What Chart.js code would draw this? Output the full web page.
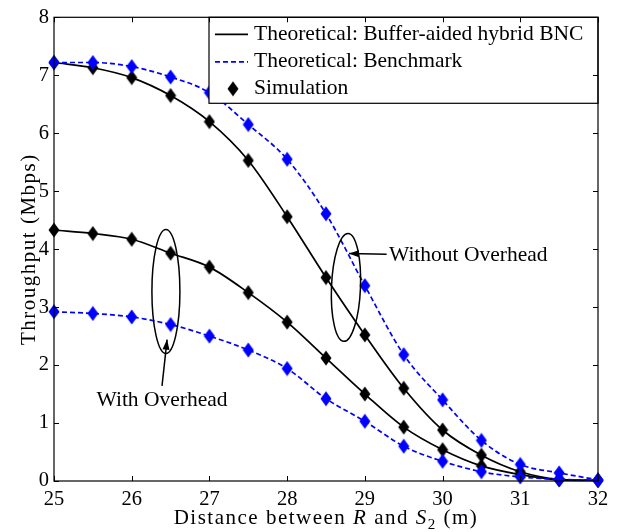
<!DOCTYPE html>
<html>
<head>
<meta charset="utf-8">
<script src="https://cdn.jsdelivr.net/npm/chart.js@4.4.0/dist/chart.umd.min.js"></script>
<style>
body { margin: 0; background: #fff; }
canvas { display: block; }
</style>
</head>
<body>
<canvas id="canvas" width="621" height="532"></canvas>
<script>
// distance between R and S2 (m)
const distance = [25, 25.5, 26, 26.5, 27, 27.5, 28, 28.5, 29, 29.5, 30, 30.5, 31, 31.5, 32];
// throughput (Mbps)
const hybridNoOverhead = [7.22, 7.13, 6.96, 6.65, 6.20, 5.53, 4.56, 3.51, 2.52, 1.60, 0.88, 0.445, 0.16, 0.03, 0.01];
const benchNoOverhead = [7.22, 7.22, 7.15, 6.97, 6.70, 6.15, 5.55, 4.61, 3.37, 2.18, 1.40, 0.70, 0.285, 0.14, 0.02];
const hybridOverhead = [4.33, 4.27, 4.17, 3.93, 3.69, 3.25, 2.74, 2.12, 1.50, 0.93, 0.54, 0.26, 0.11, 0.02, 0.01];
const benchOverhead = [2.92, 2.89, 2.83, 2.70, 2.50, 2.26, 1.94, 1.42, 1.03, 0.60, 0.34, 0.16, 0.07, 0.03, 0.01];
const xTicks = [25, 26, 27, 28, 29, 30, 31, 32];
const yTicks = [0, 1, 2, 3, 4, 5, 6, 7, 8];
const legendLabels = ['Theoretical: Buffer-aided hybrid BNC', 'Theoretical: Benchmark', 'Simulation'];

const serif = '"Liberation Serif", "Times New Roman", serif';
const blue = '#0000ff';

function makeDiamond(color) {
    let c = document.createElement('canvas');
    c.width = 12; c.height = 16;
    let g = c.getContext('2d');
    g.fillStyle = color;
    g.beginPath();
    g.moveTo(6, 0.5); g.lineTo(11.5, 8); g.lineTo(6, 15.5); g.lineTo(0.5, 8);
    g.closePath();
    g.fill();
    return c;
}
const blackDiamond = makeDiamond('#000');
const blueDiamond = makeDiamond(blue);

function pts(arr) {
    return distance.map((d, i) => ({ x: d, y: arr[i] }));
}

function series(arr, color, dashed) {
    return {
        data: pts(arr),
        borderColor: color,
        borderWidth: 1.7,
        borderDash: dashed ? [5, 3] : [],
        pointStyle: color === blue ? blueDiamond : blackDiamond,
        pointRadius: 6,
        cubicInterpolationMode: 'monotone',
        clip: false,
        fill: false
    };
}

function arrow(ctx, x1, y1, x2, y2) {
    ctx.beginPath();
    ctx.moveTo(x1, y1);
    ctx.lineTo(x2, y2);
    ctx.stroke();
    let a = Math.atan2(y2 - y1, x2 - x1);
    let len = 10, w = 3.5;
    ctx.beginPath();
    ctx.moveTo(x2, y2);
    ctx.lineTo(x2 - len * Math.cos(a) + w * Math.sin(a), y2 - len * Math.sin(a) - w * Math.cos(a));
    ctx.lineTo(x2 - len * Math.cos(a) - w * Math.sin(a), y2 - len * Math.sin(a) + w * Math.cos(a));
    ctx.closePath();
    ctx.fill();
}

// legend + annotations, drawn over the curves
const notes = {
    id: 'notes',
    afterDatasetsDraw(chart) {
        let ctx = chart.ctx, xs = chart.scales.x, ys = chart.scales.y, area = chart.chartArea;
        ctx.save();
        ctx.strokeStyle = '#000';
        ctx.fillStyle = '#000';
        ctx.lineWidth = 1.5;

        // ellipses
        ctx.beginPath();
        ctx.ellipse(xs.getPixelForValue(26.44), ys.getPixelForValue(3.27), 14, 62, 0, 0, Math.PI * 2);
        ctx.stroke();
        ctx.beginPath();
        ctx.ellipse(xs.getPixelForValue(28.757), ys.getPixelForValue(3.34), 14.5, 54, 0.04, 0, Math.PI * 2);
        ctx.stroke();

        // arrows
        arrow(ctx, xs.getPixelForValue(26.39), ys.getPixelForValue(1.64), xs.getPixelForValue(26.455), ys.getPixelForValue(2.44));
        arrow(ctx, xs.getPixelForValue(29.28), ys.getPixelForValue(3.91), xs.getPixelForValue(28.795), ys.getPixelForValue(3.925));

        ctx.font = '21.5px ' + serif;
        ctx.textBaseline = 'middle';
        ctx.textAlign = 'center';
        ctx.fillText('With Overhead', xs.getPixelForValue(26.39), ys.getPixelForValue(1.39));
        ctx.textAlign = 'left';
        ctx.fillText('Without Overhead', xs.getPixelForValue(29.31), ys.getPixelForValue(3.89));

        // legend box
        let w = 389, h = 86;
        let lx = area.right - w, ly = area.top;
        ctx.fillStyle = '#fff';
        ctx.fillRect(lx, ly, w, h);
        ctx.lineWidth = 1.2;
        ctx.strokeRect(lx, ly, w, h);
        let rows = [ly + 17, ly + 44.5, ly + 71.5];
        ctx.lineWidth = 1.7;
        ctx.beginPath();
        ctx.moveTo(lx + 6, rows[0]); ctx.lineTo(lx + 39, rows[0]);
        ctx.stroke();
        ctx.strokeStyle = blue;
        ctx.setLineDash([5, 3]);
        ctx.beginPath();
        ctx.moveTo(lx + 6, rows[1]); ctx.lineTo(lx + 39, rows[1]);
        ctx.stroke();
        ctx.setLineDash([]);
        ctx.drawImage(blackDiamond, lx + 24 - 6, rows[2] - 8);
        ctx.fillStyle = '#000';
        ctx.textAlign = 'left';
        legendLabels.forEach((t, i) => ctx.fillText(t, lx + 45, rows[i]));
        ctx.restore();
    }
};

// axes box, inward ticks, axis titles
const frame = {
    id: 'frame',
    afterDraw(chart) {
        let ctx = chart.ctx, xs = chart.scales.x, ys = chart.scales.y, a = chart.chartArea;
        ctx.save();
        ctx.strokeStyle = '#000';
        ctx.lineWidth = 1.2;
        ctx.strokeRect(a.left, a.top, a.right - a.left, a.bottom - a.top);
        ctx.lineWidth = 1;
        ctx.beginPath();
        xTicks.forEach(v => {
            let px = Math.round(xs.getPixelForValue(v)) + 0.5;
            ctx.moveTo(px, a.bottom); ctx.lineTo(px, a.bottom - 5);
            ctx.moveTo(px, a.top); ctx.lineTo(px, a.top + 5);
        });
        yTicks.forEach(v => {
            let py = Math.round(ys.getPixelForValue(v)) + 0.5;
            ctx.moveTo(a.left, py); ctx.lineTo(a.left + 5, py);
            ctx.moveTo(a.right, py); ctx.lineTo(a.right - 5, py);
        });
        ctx.stroke();

        ctx.fillStyle = '#000';
        ctx.letterSpacing = '1.5px';
        // y title
        ctx.save();
        ctx.translate(29, (a.top + a.bottom) / 2);
        ctx.rotate(-Math.PI / 2);
        ctx.font = '21px ' + serif;
        ctx.textAlign = 'center';
        ctx.textBaseline = 'middle';
        ctx.fillText('Throughput (Mbps)', 0, 0);
        ctx.restore();

        // x title with italic R, S and subscript 2
        let parts = [
            ['Distance between ', '21px ' + serif, 0],
            ['R', 'italic 21px ' + serif, 0],
            [' and ', '21px ' + serif, 0],
            ['S', 'italic 21px ' + serif, 0],
            ['2', '15px ' + serif, 5],
            [' (m)', '21px ' + serif, 0]
        ];
        let total = 0;
        parts.forEach(p => { ctx.font = p[1]; total += ctx.measureText(p[0]).width; });
        let x = (a.left + a.right) / 2 - total / 2;
        ctx.textAlign = 'left';
        ctx.textBaseline = 'alphabetic';
        parts.forEach(p => {
            ctx.font = p[1];
            ctx.fillText(p[0], x, 524 + p[2]);
            x += ctx.measureText(p[0]).width;
        });
        ctx.restore();
    }
};

let ctx = document.getElementById('canvas').getContext('2d');
let myChart = new Chart(ctx, {
    type: 'line',
    data: {
        datasets: [
            series(benchNoOverhead, blue, true),
            series(benchOverhead, blue, true),
            series(hybridNoOverhead, '#000', false),
            series(hybridOverhead, '#000', false)
        ]
    },
    options: {
        responsive: false,
        devicePixelRatio: 1,
        animation: false,
        layout: { padding: { top: 14, right: 23, left: 0, bottom: 0 } },
        plugins: { legend: { display: false }, tooltip: { enabled: false } },
        scales: {
            x: {
                type: 'linear', min: 25, max: 32,
                afterFit: s => { s.height = 51; },
                afterBuildTicks: s => { s.ticks = xTicks.map(v => ({ value: v })); },
                ticks: { color: '#000', font: { family: serif, size: 20.5 }, padding: 6, maxRotation: 0, autoSkip: false },
                grid: { display: false, drawTicks: false },
                border: { display: false }
            },
            y: {
                type: 'linear', min: 0, max: 8,
                afterFit: s => { s.width = 54; },
                afterBuildTicks: s => { s.ticks = yTicks.map(v => ({ value: v })); },
                ticks: { color: '#000', font: { family: serif, size: 20.5 }, padding: 5, autoSkip: false },
                grid: { display: false, drawTicks: false },
                border: { display: false }
            }
        }
    },
    plugins: [notes, frame]
});
</script>
</body>
</html>
